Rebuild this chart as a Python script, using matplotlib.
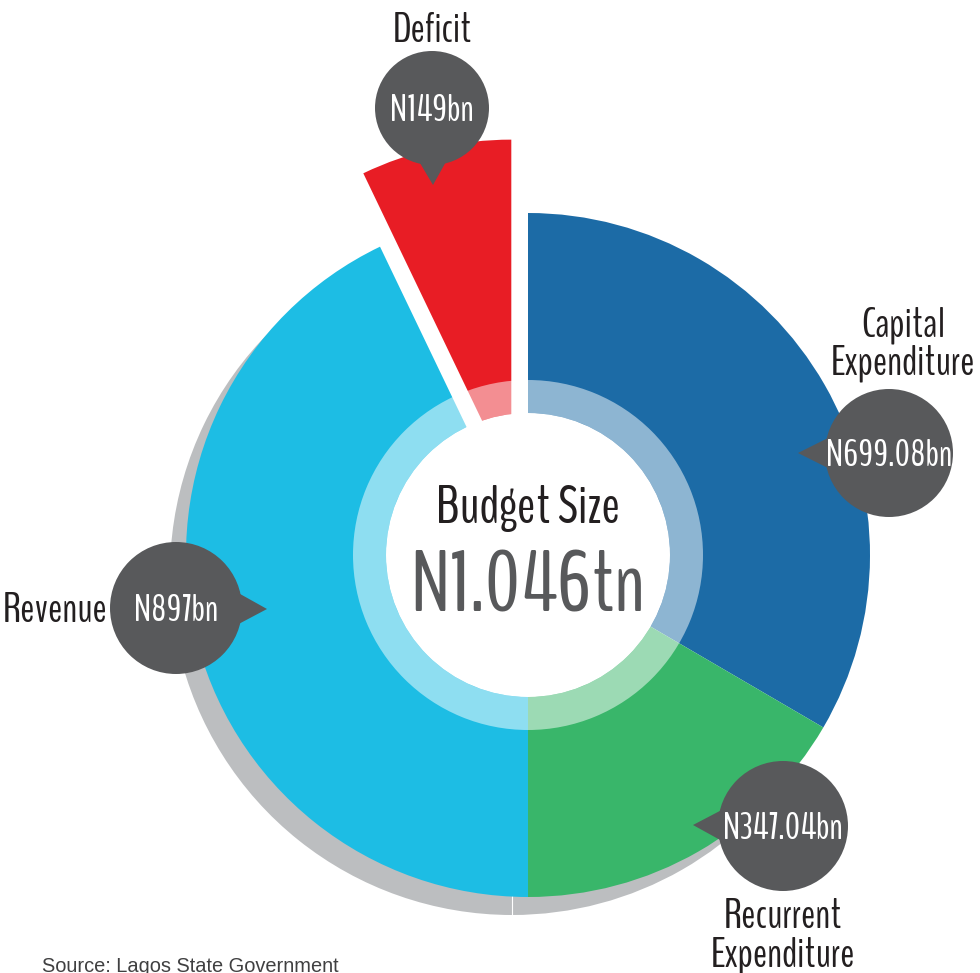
import matplotlib
matplotlib.use('Agg')
import matplotlib.pyplot as plt
import matplotlib.patches as patches
from matplotlib import font_manager
import numpy as np

# budget split (billions of naira)
right_labels = ['Capital\nExpenditure', 'Recurrent\nExpenditure']
right_values = [699.08, 347.04]
right_amounts = ['N699.08bn', 'N347.04bn']
left_labels = ['Deficit', 'Revenue']
left_values = [149, 897]
left_amounts = ['N149bn', 'N897bn']
budget_title = 'Budget Size'
budget_total = 'N1.046tn'
source = 'Source: Lagos State Government'

C_CAPITAL = '#1c6ba6'
C_RECURRENT = '#39b66a'
C_DEFICIT = '#e81d25'
C_REVENUE = '#1dbde4'
C_SHADOW = '#bcbec0'
C_BUBBLE = '#58595b'
C_TEXT = '#231f20'

available = {f.name for f in font_manager.fontManager.ttflist}
NARROW = [f for f in ['BenchNine', 'Pathway Gothic One'] if f in available] + ['DejaVu Sans']

W, H = 980, 973

def py(y):
    # pixel row -> data y
    return H - y

fig = plt.figure(figsize=(W / 100, H / 100), dpi=100)
ax = fig.add_axes([0, 0, 1, 1])

cx, cy = 528, py(555)
R = 342

# drop shadow, only under revenue and recurrent slices
ax.pie(left_values + [sum(left_values)], colors=['none', C_SHADOW, 'none'],
       center=(cx - 16, cy - 18), radius=R, startangle=90, counterclock=True,
       wedgeprops=dict(edgecolor='none', linewidth=0, zorder=1))
ax.pie(right_values + [sum(right_values)], colors=['none', C_SHADOW, 'none'],
       center=(cx - 16, cy - 18), radius=R, startangle=90, counterclock=False,
       wedgeprops=dict(edgecolor='none', linewidth=0, zorder=1))
ax.plot([cx - 16, cx - 16], [cy - 18 - R, cy - 18 - R + 20], color='white', lw=0.8, zorder=1.5)

# right half: expenditure
ax.pie(right_values + [sum(right_values)], colors=[C_CAPITAL, C_RECURRENT, 'none'],
       center=(cx, cy), radius=R, startangle=90, counterclock=False,
       wedgeprops=dict(linewidth=0, zorder=2))

# left half: funding, deficit pulled out
ax.pie(left_values + [sum(left_values)], colors=[C_DEFICIT, C_REVENUE, 'none'],
       center=(cx, cy), radius=R, startangle=90, counterclock=True,
       explode=[R * 0.22, 0, 0], wedgeprops=dict(linewidth=0, zorder=2))

# pale ring and white hole
ax.add_patch(patches.Wedge((cx, cy), 175, 0, 360, width=33, facecolor='white',
                           alpha=0.5, linewidth=0, zorder=3))
ax.add_patch(patches.Circle((cx, cy), 142, facecolor='white', linewidth=0, zorder=4))

ax.text(cx, py(523), budget_title, ha='center', va='baseline', fontsize=39,
        family=NARROW, color=C_TEXT, zorder=5)
ax.text(cx, py(612), budget_total, ha='center', va='baseline', fontsize=62,
        family=NARROW, color=C_BUBBLE, zorder=5)


def bubble(bx, by, r, tip, text, fs=27):
    by = py(by)
    tx, ty = tip[0], py(tip[1])
    ang = np.arctan2(ty - by, tx - bx)
    spread = 0.30
    pts = [(tx, ty),
           (bx + 0.92 * r * np.cos(ang + spread), by + 0.92 * r * np.sin(ang + spread)),
           (bx + 0.92 * r * np.cos(ang - spread), by + 0.92 * r * np.sin(ang - spread))]
    ax.add_patch(patches.Polygon(pts, closed=True, facecolor=C_BUBBLE, linewidth=0, zorder=6))
    ax.add_patch(patches.Circle((bx, by), r, facecolor=C_BUBBLE, linewidth=0, zorder=6))
    ax.text(bx, by - fs * 100 / 72 * 0.34, text, ha='center', va='baseline', fontsize=fs,
            family=NARROW, color='white', zorder=7)


bubble(432, 108, 57, (433, 185), left_amounts[0])
bubble(176, 608, 66, (267, 609), left_amounts[1])
bubble(889, 453, 64, (798, 453), right_amounts[0])
bubble(783, 826, 65, (693, 825), right_amounts[1])

# va='baseline' on multi-line text pins the last line's baseline
lab = dict(fontsize=30, family=NARROW, color=C_TEXT, va='baseline', linespacing=1.05, zorder=7)
ax.text(432, py(42), left_labels[0], ha='center', **lab)
ax.text(108, py(622), left_labels[1], ha='right', **lab)
ax.text(903, py(375), right_labels[0], ha='center', multialignment='center', **lab)
ax.text(783, py(967), right_labels[1], ha='center', multialignment='center', **lab)

ax.text(42, py(972), source, ha='left', va='baseline', fontsize=14.4,
        family='Liberation Sans', color='#404041')

ax.set_xlim(0, W)
ax.set_ylim(0, H)
ax.set_aspect('equal')
ax.axis('off')

plt.savefig('out.png', dpi=100)
plt.close()
